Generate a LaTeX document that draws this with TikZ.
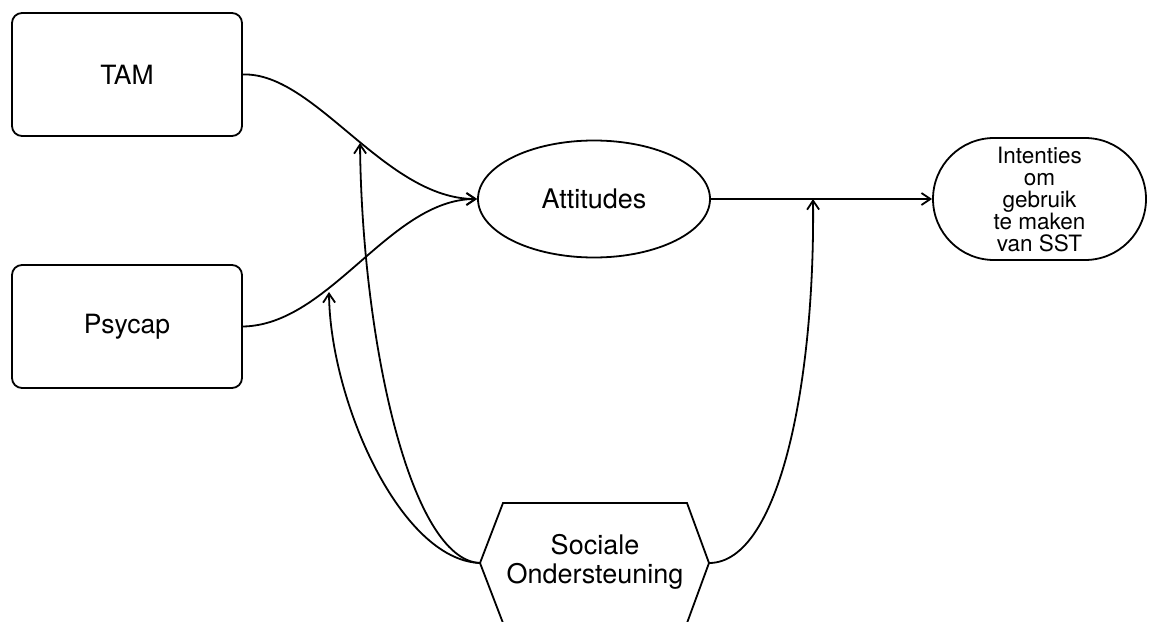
\documentclass[tikz,border=0pt]{standalone}
\usepackage{fontspec}
\setmainfont{TeX Gyre Heros}
\usetikzlibrary{arrows.meta,shapes.geometric}
\begin{document}
\begin{tikzpicture}[x=1pt,y=-1pt,
  line width=1.8pt,
  box/.style={draw, rounded corners=10pt, minimum width=230pt, minimum height=123pt,
    font=\fontsize{26.5}{30}\selectfont},
  oval/.style={draw, ellipse, inner sep=0pt, minimum width=232pt, minimum height=117pt,
    font=\fontsize{27}{30}\selectfont},
  pill/.style={draw, rounded corners=61pt, minimum width=213pt, minimum height=122pt,
    align=center, font=\fontsize{22.5}{22}\selectfont},
  hexlabel/.style={align=center, font=\fontsize{27}{29}\selectfont},
  link/.style={-{Straight Barb[length=9pt,width=12pt]}}]
\useasboundingbox (0,0) rectangle (1158,621);
\clip (0,0) rectangle (1158,621);

% source boxes, attitude ellipse and outcome
\node[box] (tam) at (127,74.5) {TAM};
\node[box] (psy) at (127,326.5) {Psycap};
\node[oval] (att) at (594,199) {Attitudes};
\node[pill] (int) at (1039.5,199) {Intenties\\om\\gebruik\\te maken\\van SST};

% moderator hexagon (runs off the lower edge)
\coordinate (soL) at (480,563);
\coordinate (soR) at (709,563);
\draw (soL) -- (503,503) -- (687,503) -- (soR) -- (687,623) -- (503,623) -- cycle;
\node[hexlabel] (soc) at (595,562) {Sociale\\Ondersteuning};

% main paths
\draw[link] (tam.east) .. controls (315,72) and (385,199) .. (att.west);
\draw[link] (psy.east) .. controls (330,325) and (390,199) .. (att.west);
\draw[link] (att.east) -- (int.west);

% points where the moderator acts
\coordinate (mTam) at (360,143);
\coordinate (mPsy) at (329,292);
\coordinate (mAtt) at (813,199);

\draw[link] (soL) .. controls (410,560) and (362,340) .. (mTam);
\draw[link] (soL) .. controls (400,560) and (330,400) .. (mPsy);
\draw[link] (soR) .. controls (780,563) and (815,380) .. (mAtt);
\end{tikzpicture}
\end{document}
